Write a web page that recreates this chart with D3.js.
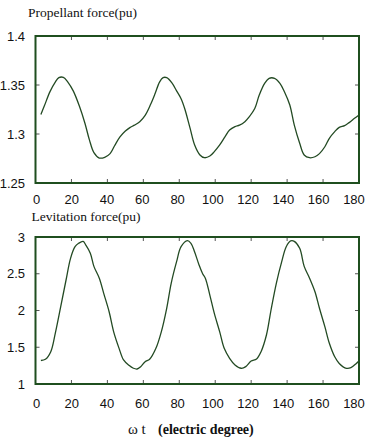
<!DOCTYPE html>
<html>
<head>
<meta charset="utf-8">
<script src="https://cdn.jsdelivr.net/npm/d3@7"></script>
<style>
  html, body { margin: 0; padding: 0; background: #fff; }
  svg { display: block; }
</style>
</head>
<body>
<div id="chart"></div>
<script>
// electric degree (x) and force (pu)
const propX = [3, 5, 8, 11, 13, 15.5, 18, 21, 24.5, 27.5, 30, 32.5, 35.5, 38.5, 41.5, 44, 47, 50, 52.5, 55, 58,
  61, 64, 66.5, 69, 71, 73, 76, 78.5, 81, 83, 86, 88.5, 91.5, 94, 97, 99.5, 102.5, 105.5, 108, 111, 113.5, 116.5,
  119, 122, 124.5, 127.5, 130, 133, 136, 138.5, 141.5, 144, 147, 149.5, 152.5, 155.5, 158, 161, 163.5, 166.5,
  169, 172, 174.5, 177.5, 180];
const propY = [1.320, 1.329, 1.343, 1.353, 1.3575, 1.3578, 1.353, 1.344, 1.328, 1.311, 1.294, 1.281, 1.2755,
  1.2762, 1.280, 1.288, 1.297, 1.303, 1.3065, 1.309, 1.3125, 1.319, 1.330, 1.341, 1.353, 1.3575, 1.3575, 1.352,
  1.344, 1.336, 1.326, 1.306, 1.289, 1.2786, 1.2758, 1.2775, 1.282, 1.2888, 1.2973, 1.304, 1.3075, 1.309,
  1.3126, 1.3177, 1.326, 1.3398, 1.3517, 1.3568, 1.3568, 1.3517, 1.3432, 1.3296, 1.309, 1.2905, 1.2786,
  1.2758, 1.2768, 1.280, 1.287, 1.2956, 1.3024, 1.3068, 1.3085, 1.3116, 1.316, 1.3194];

const levX = [3, 5.5, 8.5, 11, 14, 17, 19.5, 22, 24, 26.5, 28, 30.5, 32.5, 35.5, 38, 41, 43.5, 46.5, 49, 52,
  54.5, 56.5, 58.5, 61, 63.5, 67, 70, 73, 75.5, 78.5, 81, 84.5, 86.5, 88.5, 91, 93, 94.5, 97, 99.5, 102.5, 105,
  108, 111, 114.5, 117, 120, 123, 125.5, 128.5, 131, 134, 137, 139.5, 142, 144, 147, 149.5, 152.5, 155.5, 158,
  161, 163.5, 166.5, 169, 173, 175.5, 178.5, 180];
const levY = [1.32, 1.336, 1.44, 1.69, 2.05, 2.415, 2.71, 2.868, 2.914, 2.94, 2.89, 2.78, 2.60, 2.44, 2.23,
  1.98, 1.71, 1.485, 1.327, 1.254, 1.214, 1.204, 1.236, 1.304, 1.336, 1.485, 1.71, 2.03, 2.37, 2.664, 2.868,
  2.95, 2.914, 2.80, 2.62, 2.50, 2.44, 2.21, 1.96, 1.71, 1.485, 1.35, 1.26, 1.214, 1.236, 1.313, 1.34, 1.44,
  1.667, 2.00, 2.37, 2.664, 2.868, 2.946, 2.94, 2.846, 2.60, 2.44, 2.256, 2.03, 1.78, 1.554, 1.37, 1.28,
  1.214, 1.222, 1.28, 1.313];

const xTicks = [0, 20, 40, 60, 80, 100, 120, 140, 160, 180];
const propTicks = [1.25, 1.3, 1.35, 1.4];
const levTicks = [1, 1.5, 2, 2.5, 3];

const W = 366, H = 438;
const frameColor = '#1f4f1f';
const lineColor = '#234a23';
const SANS = '"Liberation Sans", Arial, sans-serif';
const SERIF = '"Times New Roman", "Liberation Serif", serif';

const svg = d3.select('#chart').append('svg').attr('width', W).attr('height', H);

function panel(opts) {
  const { top, bottom, xs, ys, yDomain, yTicks, title, titleX, titleY, xLabelY } = opts;
  const x = d3.scaleLinear().domain([0, 180]).range([35.5, 359]);
  // tick labels in the original sit a little inside the tick positions
  const xl = d3.scaleLinear().domain([0, 180]).range([36.5, 354]);
  const y = d3.scaleLinear().domain(yDomain).range([bottom, top]);
  const g = svg.append('g');

  // inward ticks on all four sides
  const tickLen = 4;
  const inner = xTicks.slice(1, -1);
  const innerY = yTicks.slice(1, -1);
  g.selectAll('.xt-b').data(inner).enter().append('line')
    .attr('x1', d => x(d)).attr('x2', d => x(d))
    .attr('y1', bottom).attr('y2', bottom - tickLen)
    .attr('stroke', '#555').attr('stroke-width', 1);
  g.selectAll('.xt-t').data(inner).enter().append('line')
    .attr('x1', d => x(d)).attr('x2', d => x(d))
    .attr('y1', top).attr('y2', top + tickLen)
    .attr('stroke', '#555').attr('stroke-width', 1);
  g.selectAll('.yt-l').data(innerY).enter().append('line')
    .attr('x1', x(0)).attr('x2', x(0) + tickLen)
    .attr('y1', d => y(d)).attr('y2', d => y(d))
    .attr('stroke', '#555').attr('stroke-width', 1);
  g.selectAll('.yt-r').data(innerY).enter().append('line')
    .attr('x1', x(180)).attr('x2', x(180) - tickLen)
    .attr('y1', d => y(d)).attr('y2', d => y(d))
    .attr('stroke', '#555').attr('stroke-width', 1);

  // curve
  const pts = xs.map((v, i) => [v, ys[i]]);
  const line = d3.line().x(d => x(d[0])).y(d => y(d[1])).curve(d3.curveCatmullRom);
  g.append('path').datum(pts).attr('d', line)
    .attr('fill', 'none').attr('stroke', lineColor).attr('stroke-width', 1.3);

  // frame
  g.append('rect').attr('x', x(0)).attr('y', top)
    .attr('width', x(180) - x(0)).attr('height', bottom - top)
    .attr('fill', 'none').attr('stroke', frameColor).attr('stroke-width', 2);

  // tick labels
  g.selectAll('.yl').data(yTicks).enter().append('text')
    .attr('font-family', SANS).attr('font-size', 13).attr('fill', '#111')
    .attr('x', 25).attr('y', d => y(d)).attr('dy', '0.35em')
    .attr('text-anchor', 'end').text(d => d);
  g.selectAll('.xl').data(xTicks).enter().append('text')
    .attr('font-family', SANS).attr('font-size', 13).attr('fill', '#111')
    .attr('x', d => xl(d)).attr('y', xLabelY).attr('dy', '0.35em')
    .attr('text-anchor', 'middle').text(d => d);

  svg.append('text')
    .attr('font-family', SERIF).attr('font-size', 13.5).attr('fill', '#111')
    .attr('x', titleX).attr('y', titleY).text(title);
}

panel({
  top: 36, bottom: 183, xs: propX, ys: propY, yDomain: [1.25, 1.4], yTicks: propTicks,
  title: 'Propellant force(pu)', titleX: 28, titleY: 17, xLabelY: 199
});

panel({
  top: 237, bottom: 384, xs: levX, ys: levY, yDomain: [1, 3], yTicks: levTicks,
  title: 'Levitation force(pu)', titleX: 31.5, titleY: 221, xLabelY: 403
});

const xTitle = svg.append('text')
  .attr('font-family', SERIF).attr('font-size', 14).attr('fill', '#111')
  .attr('x', 128).attr('y', 434);
xTitle.append('tspan').attr('font-size', 15).text('ω t');
xTitle.append('tspan').attr('x', 158).attr('font-weight', 'bold').text('(electric degree)');
</script>
</body>
</html>
